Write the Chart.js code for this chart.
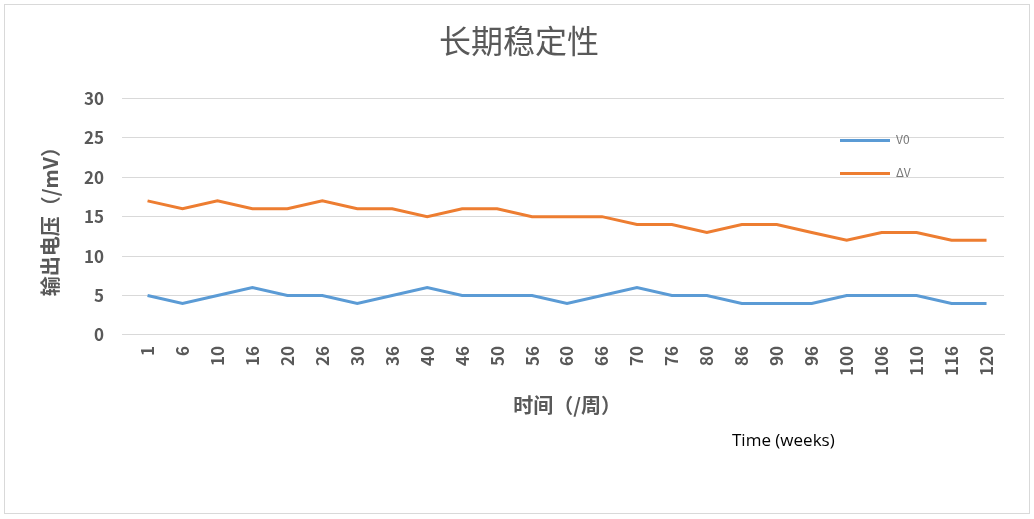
<!DOCTYPE html>
<html><head><meta charset="utf-8">
<script src="https://cdn.jsdelivr.net/npm/chart.js@4"></script>
<style>
body{margin:0;background:#fff;}
#wrap{position:relative;width:1034px;height:519px;}
#frame{position:absolute;left:4px;top:4px;width:1024px;height:508px;border:1px solid #d9d9d9;}
canvas{position:absolute;left:0;top:0;}
.lg{position:absolute;font:12px "Noto Sans CJK SC",sans-serif;color:#777;}
.lg span{display:inline-block;width:50px;height:3px;vertical-align:middle;margin-right:6px;}
#tw{position:absolute;left:732px;top:428px;font:17px "Open Sans",sans-serif;color:#000;}
</style></head><body>
<div id="wrap"><div id="frame"></div><canvas id="c" width="1034" height="519"></canvas>
<div class="lg" style="left:840px;top:130px"><span style="background:#5b9bd5"></span>V0</div>
<div class="lg" style="left:840px;top:163px"><span style="background:#ed7d31"></span>ΔV</div>
<div id="tw">Time (weeks)</div></div>
<script>
const weeks=['1','6','10','16','20','26','30','36','40','46','50','56','60','66','70','76','80','86','90','96','100','106','110','116','120'];
const v0=[5,4,5,6,5,5,4,5,6,5,5,5,4,5,6,5,5,4,4,4,5,5,5,4,4];
const dV=[17,16,17,16,16,17,16,16,15,16,16,15,15,15,14,14,13,14,14,13,12,13,13,12,12];
const yTicks=[0,5,10,15,20,25,30];
const F='"Noto Sans CJK SC", sans-serif';
new Chart(document.getElementById('c'),{type:'line',
data:{labels:weeks,datasets:[
{label:'V0',data:v0,borderColor:'#5b9bd5',borderWidth:3,pointRadius:0,tension:0},
{label:'ΔV',data:dV,borderColor:'#ed7d31',borderWidth:3,pointRadius:0,tension:0}]},
options:{responsive:false,animation:false,
layout:{padding:{left:34,right:30,top:22,bottom:98}},
plugins:{legend:{display:false},
title:{display:true,text:'长期稳定性',color:'#595959',font:{family:F,size:32,weight:'normal'},padding:{top:0,bottom:38}}},
scales:{
x:{offset:true,grid:{display:false},border:{color:'#d9d9d9'},ticks:{color:'#595959',font:{family:F,size:17,weight:'bold'},maxRotation:90,minRotation:90},
title:{display:true,text:'时间（/周）',color:'#595959',font:{family:F,size:20,weight:'bold'},padding:{top:14}}},
y:{min:0,max:30,afterBuildTicks:a=>{a.ticks=yTicks.map(v=>({value:v}));},
grid:{color:'#d9d9d9'},border:{display:false},ticks:{color:'#595959',padding:18,font:{family:F,size:17,weight:'bold'}},
title:{display:true,text:'输出电压（/mV）',color:'#595959',font:{family:F,size:20,weight:'bold'}}}}}});
</script></body></html>
